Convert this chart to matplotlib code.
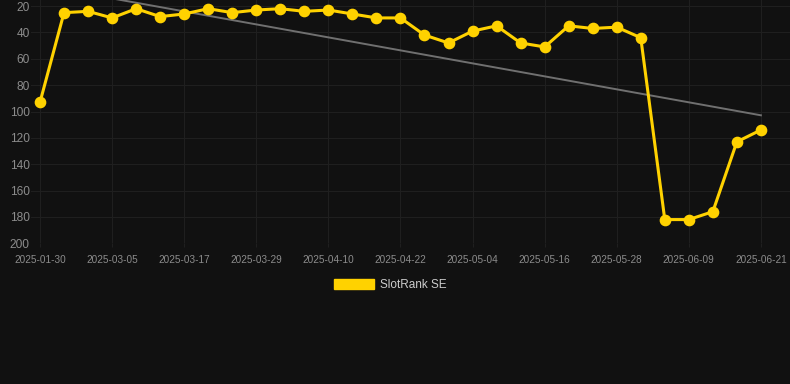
import numpy as np
import matplotlib.pyplot as plt
from matplotlib.patches import Patch

dates = ['2025-01-30', '2025-02-25', '2025-03-01', '2025-03-05', '2025-03-09',
         '2025-03-13', '2025-03-17', '2025-03-21', '2025-03-25', '2025-03-29',
         '2025-04-02', '2025-04-06', '2025-04-10', '2025-04-14', '2025-04-18',
         '2025-04-22', '2025-04-26', '2025-04-30', '2025-05-04', '2025-05-08',
         '2025-05-12', '2025-05-16', '2025-05-20', '2025-05-24', '2025-05-28',
         '2025-06-01', '2025-06-05', '2025-06-09', '2025-06-13', '2025-06-17',
         '2025-06-21']
ranks = [93, 25, 24, 29, 22, 28, 26, 22, 25, 23, 22, 24, 23, 26, 29,
         29, 42, 48, 39, 35, 48, 51, 35, 37, 36, 44, 182, 182, 176, 123, 114]

bg = '#111111'
grid_c = '#1f1f1f'
text_c = '#8c8c8c'
gold = '#FFD200'

plt.rcParams['font.family'] = ['Liberation Sans', 'DejaVu Sans']

fig = plt.figure(figsize=(7.9, 3.84), dpi=100, facecolor=bg)
ax = fig.add_axes([31 / 790, 1 - 243.3 / 384, (790 - 31) / 790, 243.3 / 384])
ax.set_facecolor(bg)

x = np.arange(len(ranks))

# trend line (linear fit)
k, b = np.polyfit(x, ranks, 1)
ax.plot(x, k * x + b, color='#707070', linewidth=1.4, zorder=2)

ax.plot(x, ranks, color=gold, linewidth=2.2, marker='o', markersize=7.4,
        zorder=3, clip_on=False)

ax.set_xlim((31 - 40) / 24.03, (790 - 40) / 24.03)
ax.set_ylim(200, 15.4)
ax.set_yticks(range(20, 201, 20))
ax.set_xticks(x[::3])
ax.set_xticklabels(dates[::3])

ax.grid(True, color=grid_c, linewidth=0.8)
ax.set_axisbelow(True)
for s in ax.spines.values():
    s.set_visible(False)

ax.tick_params(axis='x', colors=grid_c, length=3, pad=5.5, labelsize=7.2,
               labelcolor=text_c)
ax.tick_params(axis='y', length=0, pad=1, labelsize=8.6, labelcolor=text_c)

fig.legend(handles=[Patch(facecolor=gold, edgecolor=gold, label='SlotRank SE')],
           loc='center', bbox_to_anchor=(0.494, 0.258), frameon=False,
           fontsize=8.5, labelcolor='#cccccc', handlelength=3.4,
           handleheight=1.0, handletextpad=0.5)

fig.savefig('out.png', dpi=100, facecolor=bg)
